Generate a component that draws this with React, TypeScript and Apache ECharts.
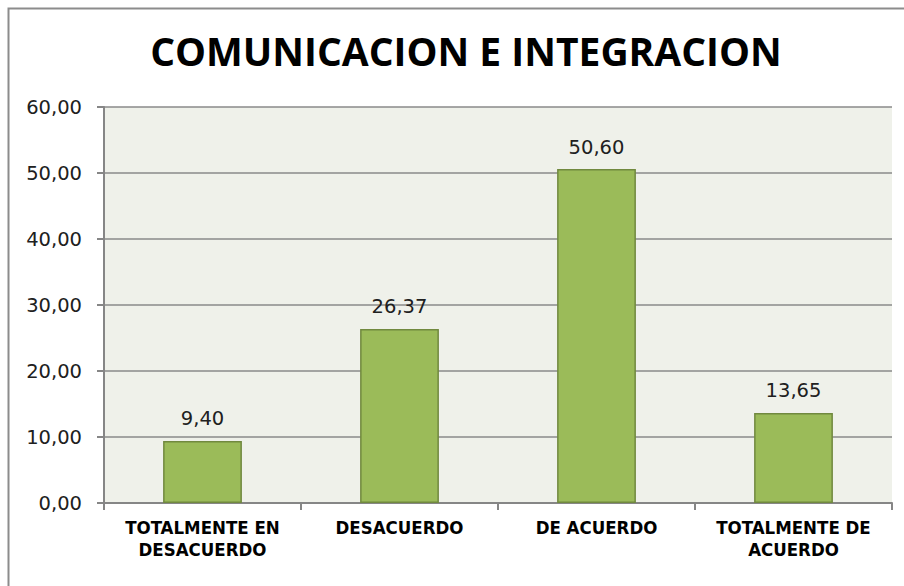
import React, { useEffect, useRef } from "react";
import * as echarts from "echarts";

const categories = ["TOTALMENTE EN\nDESACUERDO", "DESACUERDO", "DE ACUERDO", "TOTALMENTE DE\nACUERDO"];
const values = [9.4, 26.37, 50.6, 13.65];
const titleText = "COMUNICACION E INTEGRACION";

const fmt = (v: number) => v.toFixed(2).replace(".", ",");

export default function App() {
  const ref = useRef<HTMLDivElement>(null);
  useEffect(() => {
    const chart = echarts.init(ref.current!, null, { renderer: "svg" });
    chart.setOption({
      animation: false,
      backgroundColor: "#ffffff",
      title: {
        text: titleText,
        left: 461,
        top: 26,
        textAlign: "center",
        textStyle: { fontFamily: "Open Sans", fontWeight: "bold", fontSize: 39, color: "#000000" },
      },
      graphic: [
        {
          type: "rect",
          shape: { x: 8.5, y: 8.5, width: 1000, height: 1000 },
          style: { fill: "none", stroke: "#8c8c8c", lineWidth: 2 },
          z: 100,
        },
      ],
      grid: {
        left: 104,
        top: 107,
        right: 12,
        bottom: 83,
        show: true,
        backgroundColor: "#EFF1EA",
        borderWidth: 0,
      },
      xAxis: {
        type: "category",
        data: categories,
        axisLine: { lineStyle: { color: "#868686", width: 2 } },
        axisTick: { show: true, interval: 0, length: 7, lineStyle: { color: "#868686", width: 2 } },
        axisLabel: {
          interval: 0,
          margin: 13,
          fontFamily: "DejaVu Sans Condensed",
          fontWeight: "bold",
          fontSize: 18.5,
          lineHeight: 22,
          color: "#000000",
        },
      },
      yAxis: {
        type: "value",
        min: 0,
        max: 60,
        interval: 10,
        axisLine: { show: true, lineStyle: { color: "#868686", width: 2 } },
        axisTick: { show: true, length: 7, lineStyle: { color: "#868686", width: 2 } },
        splitLine: { lineStyle: { color: "#8a8a8a", width: 1.5 } },
        axisLabel: {
          margin: 22,
          fontFamily: "DejaVu Sans",
          fontSize: 19.5,
          color: "#202020",
          formatter: (v: number) => fmt(v),
        },
      },
      series: [
        {
          type: "bar",
          data: values,
          barWidth: "40%",
          itemStyle: { color: "#9BBB59", borderColor: "#71893F", borderWidth: 1.5 },
          label: {
            show: true,
            position: "top",
            distance: 12,
            fontFamily: "DejaVu Sans",
            fontSize: 19.5,
            color: "#202020",
            formatter: (p: any) => fmt(p.value),
          },
        },
      ],
    });
    return () => chart.dispose();
  }, []);
  return <div ref={ref} style={{ width: 904, height: 586, position: "absolute", left: 0, top: 0 }} />;
}
